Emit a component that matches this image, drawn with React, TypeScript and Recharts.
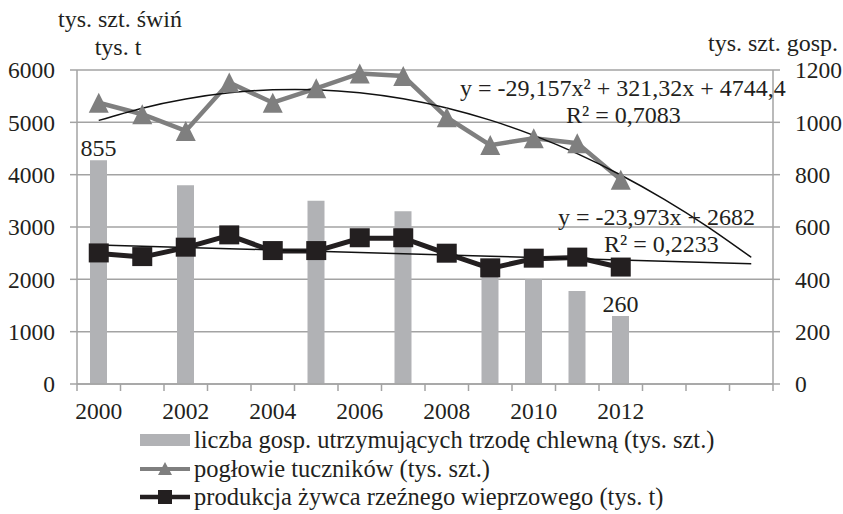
import React from "react";
import { ComposedChart, Bar, Line, XAxis, YAxis, CartesianGrid, LabelList } from "recharts";

const years = ["2000", "2001", "2002", "2003", "2004", "2005", "2006", "2007", "2008", "2009", "2010", "2011", "2012", "2013", "2014", "2015"];
const shownYears = ["2000", "2002", "2004", "2006", "2008", "2010", "2012"];
const farms = [855, null, 760, null, null, 700, null, 660, null, 410, 400, 355, 260, null, null, null];
const farmLabels = ["855", "", "", "", "", "", "", "", "", "", "", "", "260", "", "", ""];
const pigs = [5375, 5155, 4835, 5760, 5375, 5650, 5935, 5885, 5095, 4565, 4695, 4600, 3905, null, null, null];
const meat = [2495, 2425, 2605, 2840, 2540, 2540, 2785, 2785, 2490, 2210, 2395, 2415, 2225, null, null, null];
// coefficients as printed on the chart (x = 1 for 2000)
const polyCoef = [-29.157, 321.32, 4744.4];
const linCoef = [-23.973, 2682];
const leftTicks = [0, 1000, 2000, 3000, 4000, 5000, 6000];
const rightTicks = [0, 200, 400, 600, 800, 1000, 1200];
const seriesNames = [
  "liczba gosp. utrzymujących trzodę chlewną (tys. szt.)",
  "pogłowie tuczników (tys. szt.)",
  "produkcja żywca rzeźnego wieprzowego (tys. t)",
];

const data = years.map((year, i) => {
  const x = i + 1;
  return {
    year,
    farms: farms[i],
    lab: farmLabels[i],
    pigs: pigs[i],
    meat: meat[i],
    polyTrend: polyCoef[0] * x * x + polyCoef[1] * x + polyCoef[2],
    linTrend: linCoef[0] * x + linCoef[1],
  };
});

const W = 843;
const H = 514;
const LEFT_W = 77;
const RIGHT_W = 70;
const BAND = (W - LEFT_W - RIGHT_W) / years.length;
const FONT = "'Liberation Serif', 'Times New Roman', serif";
const TXT = "#231f20";
const AXIS = "#a3a3a3";

const XTick = (props: any) => {
  const { x, y, payload, index } = props;
  const c = payload.coordinate ?? x;
  return (
    <g>
      <line x1={c - BAND / 2} x2={c - BAND / 2} y1={y} y2={y + 7} stroke={AXIS} strokeWidth={1.5} />
      {index === years.length - 1 && (
        <line x1={c + BAND / 2} x2={c + BAND / 2} y1={y} y2={y + 7} stroke={AXIS} strokeWidth={1.5} />
      )}
      {shownYears.includes(payload.value) && (
        <text x={c} y={y + 35} textAnchor="middle" fill={TXT} fontSize={23.5} fontFamily={FONT}>
          {payload.value}
        </text>
      )}
    </g>
  );
};

const Triangle = (props: any) => {
  const { cx, cy } = props;
  if (cx == null || cy == null || props.value == null) return null;
  return <polygon points={`${cx},${cy - 10} ${cx - 10},${cy + 10} ${cx + 10},${cy + 10}`} fill="#7f7f7f" />;
};

const Square = (props: any) => {
  const { cx, cy } = props;
  if (cx == null || cy == null || props.value == null) return null;
  return <rect x={cx - 10} y={cy - 10} width={20} height={19} fill="#231f20" />;
};

export default function App() {
  return (
    <div style={{ position: "absolute", left: 0, top: 0, width: W, height: H, background: "#fff" }}>
      <ComposedChart width={W} height={H} data={data} margin={{ top: 70, right: 0, bottom: 90, left: 0 }}>
        <CartesianGrid yAxisId="l" vertical={false} stroke={AXIS} strokeWidth={1.5} />
        <XAxis
          dataKey="year"
          interval={0}
          height={40}
          tickLine={false}
          tickSize={0}
          tickMargin={0}
          axisLine={{ stroke: AXIS, strokeWidth: 1.5 }}
          tick={<XTick />}
        />
        <YAxis
          yAxisId="l"
          width={LEFT_W}
          domain={[0, 6000]}
          ticks={leftTicks}
          tickSize={7}
          tickMargin={15}
          tickLine={{ stroke: AXIS, strokeWidth: 1.5 }}
          axisLine={{ stroke: AXIS, strokeWidth: 1.5 }}
          tick={{ fontSize: 23.5, fill: TXT, fontFamily: FONT }}
        />
        <YAxis
          yAxisId="r"
          orientation="right"
          width={RIGHT_W}
          domain={[0, 1200]}
          ticks={rightTicks}
          tickSize={7}
          tickMargin={15}
          tickLine={{ stroke: AXIS, strokeWidth: 1.5 }}
          axisLine={{ stroke: AXIS, strokeWidth: 1.5 }}
          tick={{ fontSize: 23.5, fill: TXT, fontFamily: FONT, textAnchor: "start" }}
        />
        <Bar yAxisId="r" dataKey="farms" name={seriesNames[0]} fill="#b1b2b5" barSize={17} isAnimationActive={false}>
          <LabelList dataKey="lab" position="top" offset={4} fill={TXT} fontSize={24} fontFamily={FONT} />
        </Bar>
        <Line
          yAxisId="l"
          dataKey="pigs"
          name={seriesNames[1]}
          stroke="#7f7f7f"
          strokeWidth={4.5}
          dot={<Triangle />}
          activeDot={false}
          isAnimationActive={false}
        />
        <Line
          yAxisId="l"
          dataKey="meat"
          name={seriesNames[2]}
          stroke="#231f20"
          strokeWidth={5}
          dot={<Square />}
          activeDot={false}
          isAnimationActive={false}
        />
        <Line yAxisId="l" type="natural" dataKey="polyTrend" stroke="#111" strokeWidth={1.5} dot={false} activeDot={false} isAnimationActive={false} />
        <Line yAxisId="l" type="linear" dataKey="linTrend" stroke="#111" strokeWidth={1.5} dot={false} activeDot={false} isAnimationActive={false} />
      </ComposedChart>
      <svg width={W} height={H} style={{ position: "absolute", left: 0, top: 0, pointerEvents: "none" }} fontFamily={FONT} fontSize={24} fill={TXT}>
        <text x={120} y={27} textAnchor="middle">tys. szt. świń</text>
        <text x={118} y={55} textAnchor="middle">tys. t</text>
        <text x={838} y={51} textAnchor="end">tys. szt. gosp.</text>
        <text x={460} y={96}>y = -29,157x² + 321,32x + 4744,4</text>
        <text x={566} y={123}>R² = 0,7083</text>
        <text x={558} y={225}>y = -23,973x + 2682</text>
        <text x={604} y={252}>R² = 0,2233</text>
        <g fontSize={24.5}>
          <rect x={140} y={434} width={50} height={12} fill="#b1b2b5" />
          <text x={194} y={448}>{seriesNames[0]}</text>
          <line x1={140} x2={190} y1={469} y2={469} stroke="#7f7f7f" strokeWidth={4} />
          <polygon points="165,462 158,475 172,475" fill="#7f7f7f" />
          <text x={194} y={477}>{seriesNames[1]}</text>
          <line x1={140} x2={190} y1={497} y2={497} stroke="#231f20" strokeWidth={4.5} />
          <rect x={158} y={490} width={14} height={14} fill="#231f20" />
          <text x={194} y={505}>{seriesNames[2]}</text>
        </g>
      </svg>
    </div>
  );
}
